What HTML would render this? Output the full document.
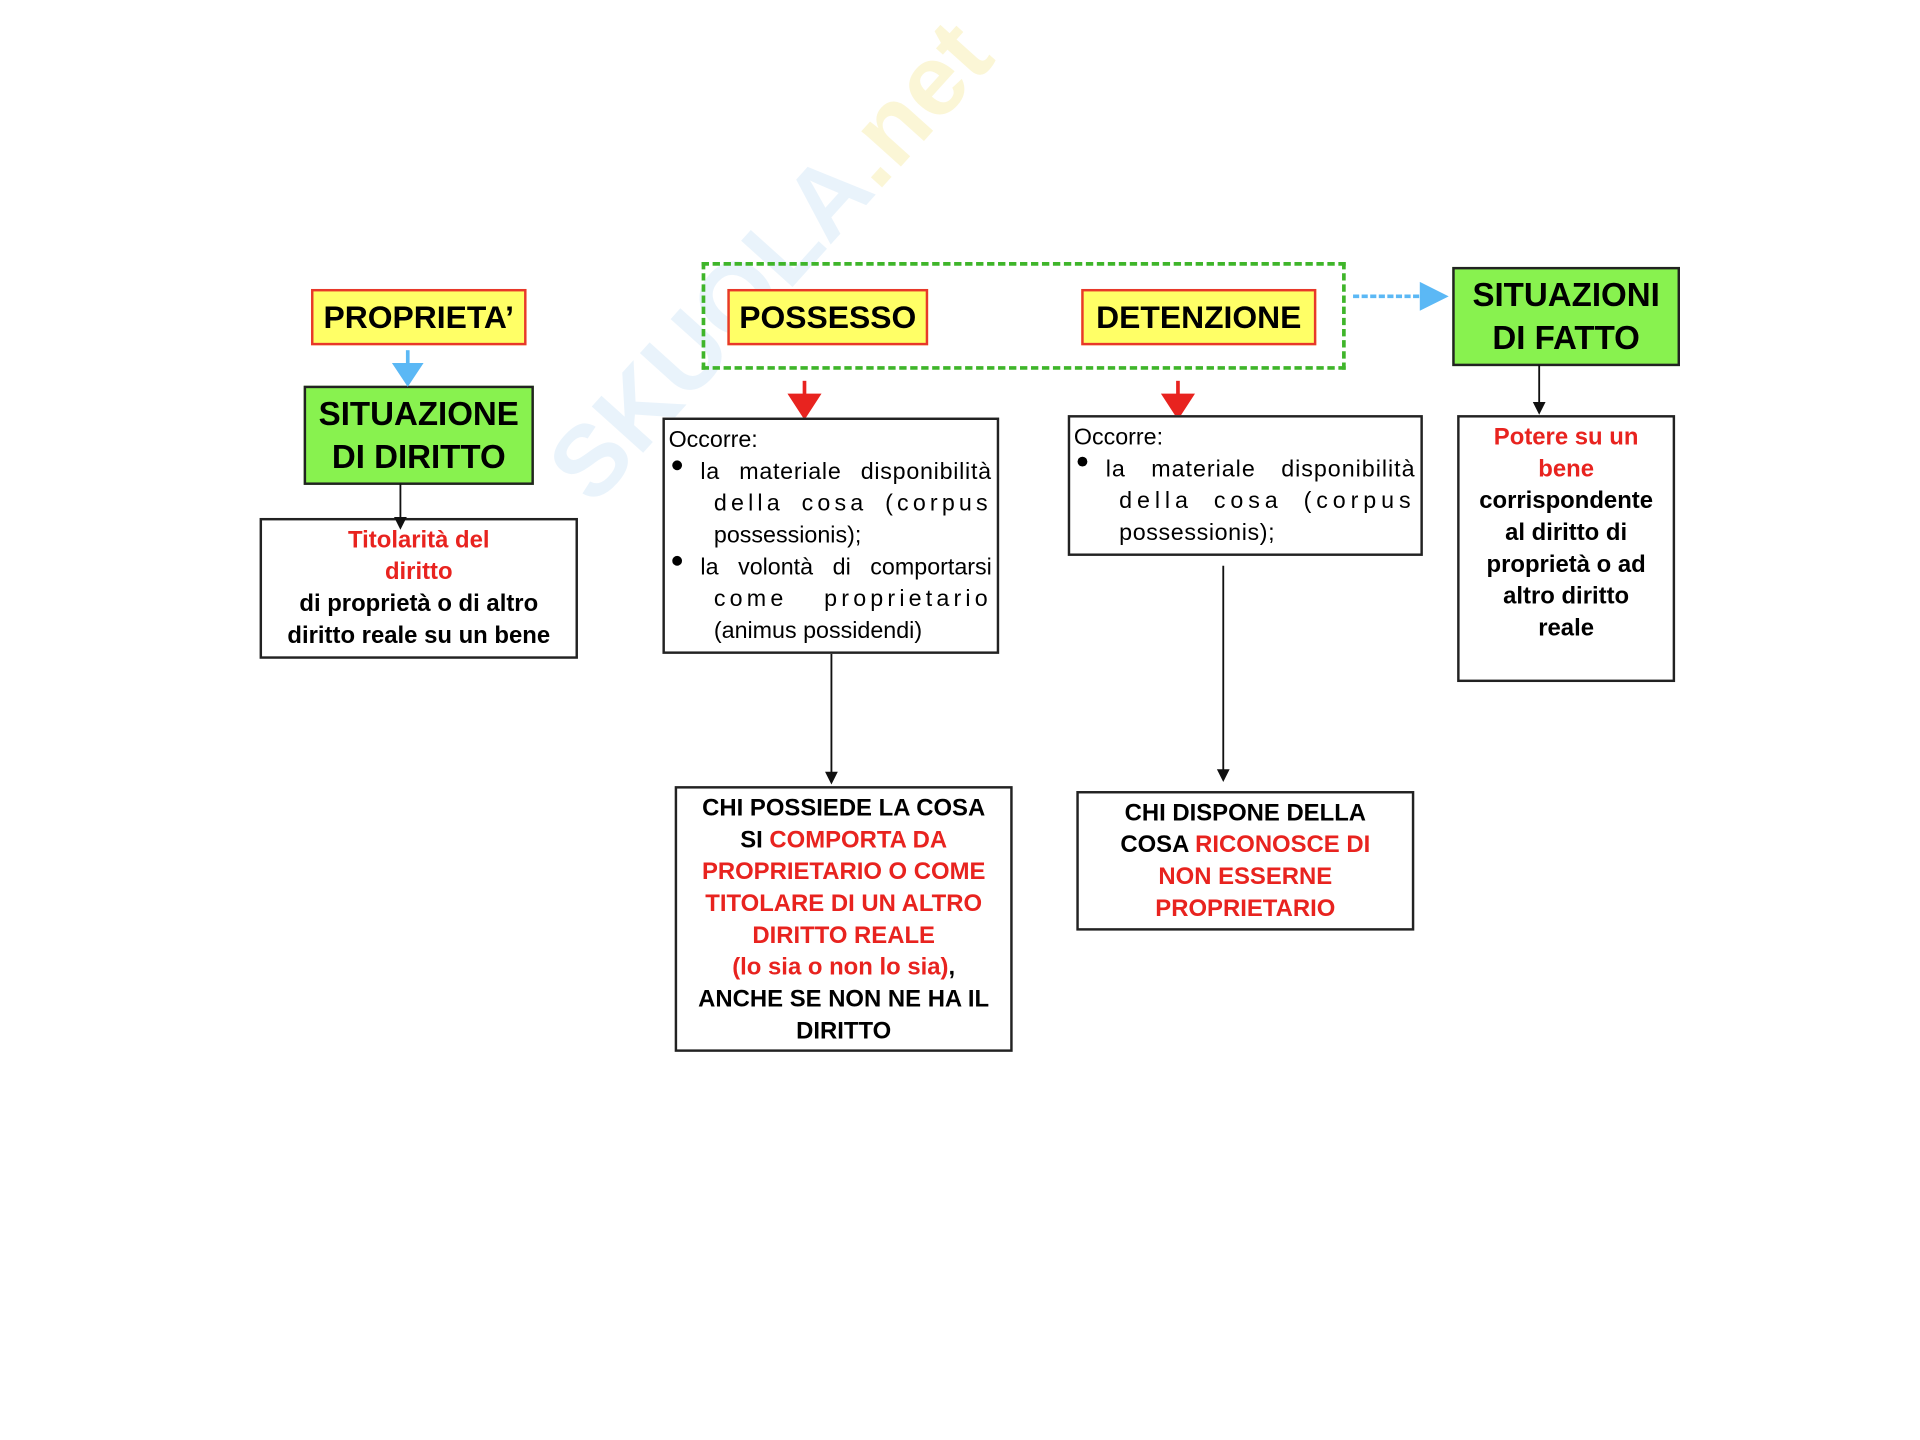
<!DOCTYPE html>
<html><head><meta charset="utf-8"><style>
html,body{margin:0;padding:0;background:#fff;}
body{width:1920px;height:1440px;overflow:hidden;position:relative;}
#w{position:absolute;left:0;top:0;width:1568px;height:1176px;transform:scale(1.22449);transform-origin:0 0;font-family:"Liberation Sans",Arial,sans-serif;}
.b{position:absolute;box-sizing:border-box;}
.y{background:#ffff66;border:2px solid #e8382a;font-weight:bold;font-size:26px;text-align:center;line-height:42px;color:#000;}
.g{background:#88f24f;border:2px solid #222;font-weight:bold;font-size:27px;text-align:center;color:#000;line-height:35px;padding-top:4px;}
.w{background:#fff;border:2px solid #222;}
.l{position:absolute;line-height:26px;white-space:nowrap;}
.c{text-align:center;font-weight:bold;font-size:19.5px;}
.r{color:#e8231f;}
.j{text-align:justify;text-align-last:justify;font-size:19px;}
.s{letter-spacing:3.4px;}
.n{font-size:19px;}
.dot{position:absolute;width:8px;height:8px;border-radius:50%;background:#000;}
</style></head><body><div id="w">
<div style="position:absolute;left:430px;top:365px;transform:rotate(-48deg);transform-origin:0 0;font:bold 82px 'Liberation Sans',sans-serif;color:rgba(120,180,230,0.16);white-space:nowrap;">SKUOLA<span style="color:rgba(240,220,90,0.25)">.net</span></div>

<div class="b y" style="left:254px;top:236px;width:176px;height:46px;">PROPRIETA’</div>
<div class="b g" style="left:248px;top:315px;width:188px;height:81px;">SITUAZIONE<br>DI DIRITTO</div>
<div class="b w" style="left:212px;top:423px;width:260px;height:115px;"></div>
<div class="l c r" style="left:212px;width:260px;top:428px;">Titolarità del</div>
<div class="l c r" style="left:212px;width:260px;top:454px;">diritto</div>
<div class="l c" style="left:212px;width:260px;top:480px;">di proprietà o di altro</div>
<div class="l c" style="left:212px;width:260px;top:506px;">diritto reale su un bene</div>

<div class="b" style="left:573px;top:214px;width:526px;height:88px;border:3px dashed #3fb52a;"></div>
<div class="b y" style="left:594px;top:236px;width:164px;height:46px;">POSSESSO</div>
<div class="b y" style="left:883px;top:236px;width:192px;height:46px;">DETENZIONE</div>
<div class="b g" style="left:1186px;top:218px;width:186px;height:81px;">SITUAZIONI<br>DI FATTO</div>

<svg style="position:absolute;left:0;top:0" width="1568" height="1176">
<g stroke="#111" stroke-width="1.5" fill="#111">
<line x1="327" y1="395" x2="327" y2="425"/><polygon points="323,423 331,423 327,431"/>
<line x1="1257" y1="298" x2="1257" y2="331"/><polygon points="1253,329 1261,329 1257,337"/>
<line x1="679" y1="534" x2="679" y2="633"/><polygon points="675,631 683,631 679,639"/>
<line x1="999" y1="462" x2="999" y2="631"/><polygon points="995,629 1003,629 999,637"/>
</g>
<g fill="#5bb8f5" stroke="#5bb8f5">
<line x1="333" y1="286" x2="333" y2="300" stroke-width="3"/><polygon points="321,297 345,297 333,315"/>
<line x1="1105" y1="242" x2="1165" y2="242" stroke-width="3" stroke-dasharray="5,2"/><polygon points="1160,231 1160,253 1182,242"/>
</g>
<g fill="#e8231f" stroke="#e8231f">
<line x1="657" y1="311" x2="657" y2="326" stroke-width="3"/><polygon points="644,322 670,322 657,342"/>
<line x1="962" y1="311" x2="962" y2="326" stroke-width="3"/><polygon points="949,322 975,322 962,342"/>
</g>
</svg>

<div class="b w" style="left:541px;top:341px;width:275px;height:193px;"></div>
<div class="l n" style="left:546px;top:347px;">Occorre:</div>
<div class="dot" style="left:549px;top:376px;"></div>
<div class="l j" style="left:572px;width:238px;top:373px;letter-spacing:0.6px;">la materiale disponibilità</div>
<div class="l j s" style="left:583px;width:227px;top:399px;">della cosa (corpus</div>
<div class="l n" style="left:583px;top:425px;">possessionis);</div>
<div class="dot" style="left:549px;top:454px;"></div>
<div class="l j" style="left:572px;width:238px;top:451px;">la volontà di comportarsi</div>
<div class="l j s" style="left:583px;width:227px;top:477px;">come proprietario</div>
<div class="l n" style="left:583px;top:503px;">(animus possidendi)</div>

<div class="b w" style="left:872px;top:339px;width:290px;height:115px;"></div>
<div class="l n" style="left:877px;top:345px;">Occorre:</div>
<div class="dot" style="left:880px;top:373px;"></div>
<div class="l j" style="left:903px;width:253px;top:371px;letter-spacing:0.8px;">la materiale disponibilità</div>
<div class="l j s" style="left:914px;width:242px;top:397px;letter-spacing:4px;">della cosa (corpus</div>
<div class="l n" style="left:914px;top:423px;letter-spacing:0.5px;">possessionis);</div>

<div class="b w" style="left:1190px;top:339px;width:178px;height:218px;"></div>
<div class="l c r" style="left:1190px;width:178px;top:344px;">Potere su un</div>
<div class="l c r" style="left:1190px;width:178px;top:370px;">bene</div>
<div class="l c" style="left:1190px;width:178px;top:396px;">corrispondente</div>
<div class="l c" style="left:1190px;width:178px;top:422px;">al diritto di</div>
<div class="l c" style="left:1190px;width:178px;top:448px;">proprietà o ad</div>
<div class="l c" style="left:1190px;width:178px;top:474px;">altro diritto</div>
<div class="l c" style="left:1190px;width:178px;top:500px;">reale</div>

<div class="b w" style="left:551px;top:642px;width:276px;height:217px;"></div>
<div class="l c" style="left:551px;width:276px;top:647px;">CHI POSSIEDE LA COSA</div>
<div class="l c" style="left:551px;width:276px;top:673px;">SI <span class="r">COMPORTA DA</span></div>
<div class="l c r" style="left:551px;width:276px;top:699px;">PROPRIETARIO O COME</div>
<div class="l c r" style="left:551px;width:276px;top:725px;">TITOLARE DI UN ALTRO</div>
<div class="l c r" style="left:551px;width:276px;top:751px;">DIRITTO REALE</div>
<div class="l c" style="left:551px;width:276px;top:777px;"><span class="r">(lo sia o non lo sia)</span>,</div>
<div class="l c" style="left:551px;width:276px;top:803px;">ANCHE SE NON NE HA IL</div>
<div class="l c" style="left:551px;width:276px;top:829px;">DIRITTO</div>

<div class="b w" style="left:879px;top:646px;width:276px;height:114px;"></div>
<div class="l c" style="left:879px;width:276px;top:651px;">CHI DISPONE DELLA</div>
<div class="l c" style="left:879px;width:276px;top:677px;">COSA <span class="r">RICONOSCE DI</span></div>
<div class="l c r" style="left:879px;width:276px;top:703px;">NON ESSERNE</div>
<div class="l c r" style="left:879px;width:276px;top:729px;">PROPRIETARIO</div>
</div></body></html>
